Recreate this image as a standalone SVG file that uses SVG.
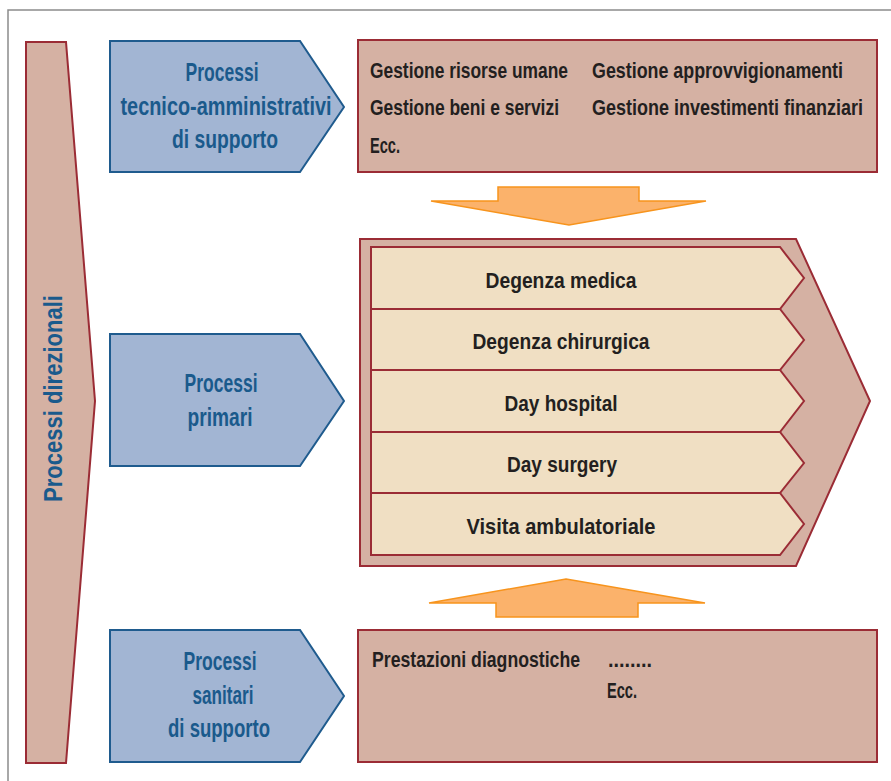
<svg xmlns="http://www.w3.org/2000/svg" width="891" height="781" viewBox="0 0 891 781">
  <style>
    .frame { fill: none; stroke: #8c8c8c; stroke-width: 1.5; }
    .rose { fill: #d5b1a3; stroke: #9b2c35; stroke-width: 2; }
    .cream { fill: #f0dfc3; stroke: #9b2c35; stroke-width: 2; }
    .blue { fill: #a2b5d3; stroke: #1f5b8e; stroke-width: 2; }
    .flow { fill: #fbb26b; stroke: #f7941d; stroke-width: 1.5; }
    text { font-family: "Liberation Sans", Arial, sans-serif; font-weight: bold; }
    .bt { fill: #1a5a8c; font-size: 25px; text-anchor: middle; }
    .dt { fill: #231f20; font-size: 22.5px; }
    .rt { fill: #231f20; font-size: 22px; text-anchor: middle; }
  </style>

  <!-- outer frame (top and left rules) -->
  <path class="frame" d="M8,781 V10 H891"/>

  <g id="direzionali">
    <polygon class="rose" points="26,42 66,42 95,401 66,763 26,763"/>
    <text class="bt" style="font-size:26px;text-anchor:start" transform="translate(62,502) rotate(-90)" textLength="207" lengthAdjust="spacingAndGlyphs">Processi direzionali</text>
  </g>

  <g id="tecnico-amministrativi">
    <polygon class="blue" points="110,41 300,41 344,107 300,172 110,172"/>
    <text class="bt" x="222" y="81" textLength="73" lengthAdjust="spacingAndGlyphs">Processi</text>
    <text class="bt" x="226" y="115" textLength="211" lengthAdjust="spacingAndGlyphs">tecnico-amministrativi</text>
    <text class="bt" x="225" y="148" textLength="106" lengthAdjust="spacingAndGlyphs">di supporto</text>
  </g>

  <g id="primari">
    <polygon class="blue" points="110,334 300,334 344,401 300,466 110,466"/>
    <text class="bt" x="221" y="392" textLength="73" lengthAdjust="spacingAndGlyphs">Processi</text>
    <text class="bt" x="220" y="426" textLength="65" lengthAdjust="spacingAndGlyphs">primari</text>
  </g>

  <g id="sanitari">
    <polygon class="blue" points="110,630 300,630 344,696 300,762 110,762"/>
    <text class="bt" x="220" y="670" textLength="73" lengthAdjust="spacingAndGlyphs">Processi</text>
    <text class="bt" x="223" y="704" textLength="61" lengthAdjust="spacingAndGlyphs">sanitari</text>
    <text class="bt" x="219" y="737" textLength="102" lengthAdjust="spacingAndGlyphs">di supporto</text>
  </g>

  <g id="supporto-amministrativo">
    <rect class="rose" x="358" y="40" width="519" height="132"/>
    <text class="dt" x="370" y="78" textLength="198" lengthAdjust="spacingAndGlyphs">Gestione risorse umane</text>
    <text class="dt" x="592" y="78" textLength="251" lengthAdjust="spacingAndGlyphs">Gestione approvvigionamenti</text>
    <text class="dt" x="370" y="115" textLength="189" lengthAdjust="spacingAndGlyphs">Gestione beni e servizi</text>
    <text class="dt" x="592" y="115" textLength="271" lengthAdjust="spacingAndGlyphs">Gestione investimenti finanziari</text>
    <text class="dt" x="370" y="153" textLength="30" lengthAdjust="spacingAndGlyphs">Ecc.</text>
  </g>

  <g id="processi-primari">
    <polygon class="rose" points="360,239 796,239 870,401 796,566 360,566"/>
    <g id="degenza-medica">
      <polygon class="cream" points="371,247 780,247 804,278 780,309 371,309"/>
      <text class="rt" x="561" y="288" textLength="151" lengthAdjust="spacingAndGlyphs">Degenza medica</text>
    </g>
    <g id="degenza-chirurgica">
      <polygon class="cream" points="371,309 780,309 804,340 780,370 371,370"/>
      <text class="rt" x="561" y="349" textLength="177" lengthAdjust="spacingAndGlyphs">Degenza chirurgica</text>
    </g>
    <g id="day-hospital">
      <polygon class="cream" points="371,370 780,370 804,401 780,432 371,432"/>
      <text class="rt" x="561" y="411" textLength="113" lengthAdjust="spacingAndGlyphs">Day hospital</text>
    </g>
    <g id="day-surgery">
      <polygon class="cream" points="371,432 780,432 804,463 780,493 371,493"/>
      <text class="rt" x="562" y="472" textLength="110" lengthAdjust="spacingAndGlyphs">Day surgery</text>
    </g>
    <g id="visita-ambulatoriale">
      <polygon class="cream" points="371,493 780,493 804,524 780,555 371,555"/>
      <text class="rt" x="561" y="534" textLength="189" lengthAdjust="spacingAndGlyphs">Visita ambulatoriale</text>
    </g>
  </g>

  <g id="supporto-sanitario">
    <rect class="rose" x="358" y="630" width="519" height="132"/>
    <text class="dt" x="372" y="667" textLength="208" lengthAdjust="spacingAndGlyphs">Prestazioni diagnostiche</text>
    <text class="dt" x="608" y="667" textLength="44" lengthAdjust="spacingAndGlyphs">........</text>
    <text class="dt" x="607" y="698" textLength="30" lengthAdjust="spacingAndGlyphs">Ecc.</text>
  </g>

  <g id="connectors">
    <polygon class="flow" points="498,187 639,187 639,201 706,201 569,225 431,201 498,201"/>
    <polygon class="flow" points="566,579 705,603 638,603 638,617 496,617 496,603 429,603"/>
  </g>
</svg>
